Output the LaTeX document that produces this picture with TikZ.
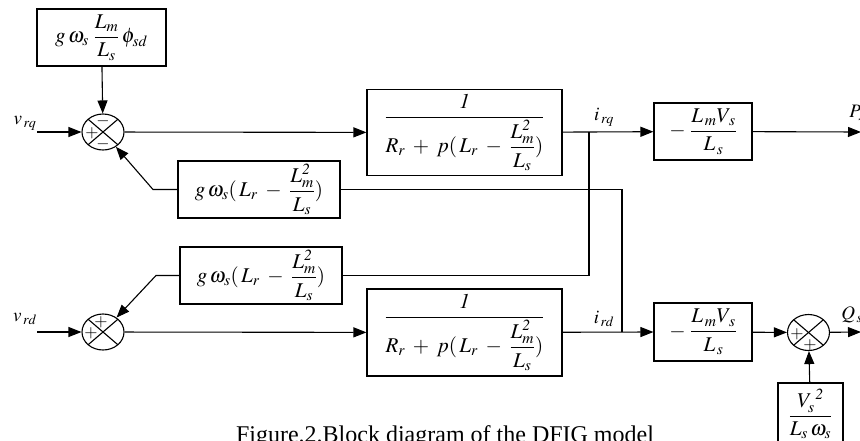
\documentclass[tikz,border=0pt]{standalone}
\usepackage{amsmath}
\usepackage{mathptmx}
\usepackage[no-math]{fontspec}
\setmainfont{Liberation Serif}
\usetikzlibrary{arrows.meta, positioning, shapes.geometric}

\begin{document}
\begin{tikzpicture}[
    x=1pt, y=-1pt,
    block/.style={
        draw,
        line width=1.1pt,
        inner sep=1pt,
        font=\fontsize{21}{24}\selectfont,
    },
    sum/.style={
        ellipse,
        draw,
        line width=1.1pt,
        minimum width=42pt,
        minimum height=36pt,
        inner sep=0pt,
        path picture={
            \draw[line width=1.1pt] (path picture bounding box.north west)
                -- (path picture bounding box.south east);
            \draw[line width=1.1pt] (path picture bounding box.south west)
                -- (path picture bounding box.north east);
        },
    },
    sign/.style={
        inner sep=0pt,
        font=\fontsize{17}{17}\selectfont,
    },
    signal/.style={
        line width=1.1pt,
        -{Triangle[length=13pt, width=10pt]},
    },
    wire/.style={
        line width=1.1pt,
    },
    varlabel/.style={
        inner sep=0pt,
        font=\fontsize{19}{21}\selectfont,
    }
]
    \useasboundingbox (0,0) rectangle (860,440);

    % Blocks
    \node[block, minimum width=129pt, minimum height=57pt] (flux) at (101.5,37.5)
        {$g\,\omega_s\;\dfrac{L_m}{L_s}\,\phi_{sd}$};
    \node[block, minimum width=195pt, minimum height=86pt] (tfq) at (464.5,132.5)
        {$\dfrac{\mathit{1}}{R_r\;+\;p(\,L_r\;-\;\dfrac{L_m^{\mathit{2}}}{L_s})}$};
    \node[block, minimum width=162pt, minimum height=57pt] (fbq) at (259,189.5)
        {$g\,\omega_s(\,L_r\;-\;\dfrac{L_m^{\mathit{2}}}{L_s})$};
    \node[block, minimum width=98pt, minimum height=57pt] (gainq) at (703,131.5)
        {$-\;\dfrac{L_{\,m}V_{\,s}}{L_{\,s}}$};
    \node[block, minimum width=162pt, minimum height=57pt] (fbd) at (261,275.5)
        {$g\,\omega_s(\,L_r\;-\;\dfrac{L_m^{\mathit{2}}}{L_s})$};
    \node[block, minimum width=195pt, minimum height=87pt] (tfd) at (464.5,332.5)
        {$\dfrac{\mathit{1}}{R_r\;+\;p(\,L_r\;-\;\dfrac{L_m^{\mathit{2}}}{L_s})}$};
    \node[block, minimum width=98pt, minimum height=58pt] (gaind) at (703,332)
        {$-\;\dfrac{L_{\,m}V_{\,s}}{L_{\,s}}$};
    \node[block, minimum width=65pt, minimum height=62pt] (vsq) at (810.5,414)
        {$\dfrac{V_s^{\;\mathit{2}}}{L_s\,\omega_s}$};

    % Summing points
    \node[sum] (s1) at (103,132) {};
    \node[sum] (s2) at (103,332) {};
    \node[sum] (s3) at (808.5,332.5) {};
    \node[sign] at (92,133) {$+$};
    \node[sign] at (103,121) {$-$};
    \node[sign] at (103,144) {$-$};
    \node[sign] at (91,333) {$+$};
    \node[sign] at (101,322) {$+$};
    \node[sign] at (797,334) {$+$};
    \node[sign] at (810,345) {$+$};

    % Signal names
    \node[varlabel] (vrq) at (25,123) {$v_{\,rq}$};
    \node[varlabel] (vrd) at (25,319) {$v_{\,rd}$};
    \node[varlabel] (irq) at (604,117) {$i_{\,rq}$};
    \node[varlabel] (ird) at (604,319) {$i_{\,rd}$};
    \node[varlabel] (ps) at (857,113) {$P_s$};
    \node[varlabel] (qs) at (852,315) {$Q_{\,s}$};

    % Free ends and branch points
    \coordinate (inq) at (37,132);
    \coordinate (ind) at (37,332);
    \coordinate (outq) at (861,132);
    \coordinate (outd) at (861,332);
    \coordinate (jq) at (589,132);
    \coordinate (jd) at (622,332);
    \coordinate (bendq) at (153,189.5);
    \coordinate (bendd) at (156,275.5);

    % Forward paths
    \draw[signal] (inq) -- (s1);
    \draw[signal] (flux) -- (s1);
    \draw[signal] (s1) -- (tfq);
    \draw[signal] (tfq) -- (gainq);
    \draw[signal] (gainq) -- (outq);
    \draw[signal] (ind) -- (s2);
    \draw[signal] (s2) -- (tfd);
    \draw[signal] (tfd) -- (gaind.west);
    \draw[signal] (gaind) -- (s3);
    \draw[signal] (vsq) -- (s3);
    \draw[signal] (s3) -- (outd);

    % Cross coupling
    \draw[wire] (jq) |- (fbd.east);
    \draw[wire] (jd) |- (fbq.east);
    \draw[signal] (fbq.west) -- (bendq) -- (s1);
    \draw[signal] (fbd.west) -- (bendd) -- (s2);

    % Caption
    \node[anchor=base, inner sep=0pt, font=\fontsize{24}{28}\selectfont] (caption)
        at (445,442) {Figure.2.Block diagram of the DFIG model};
\end{tikzpicture}
\end{document}
